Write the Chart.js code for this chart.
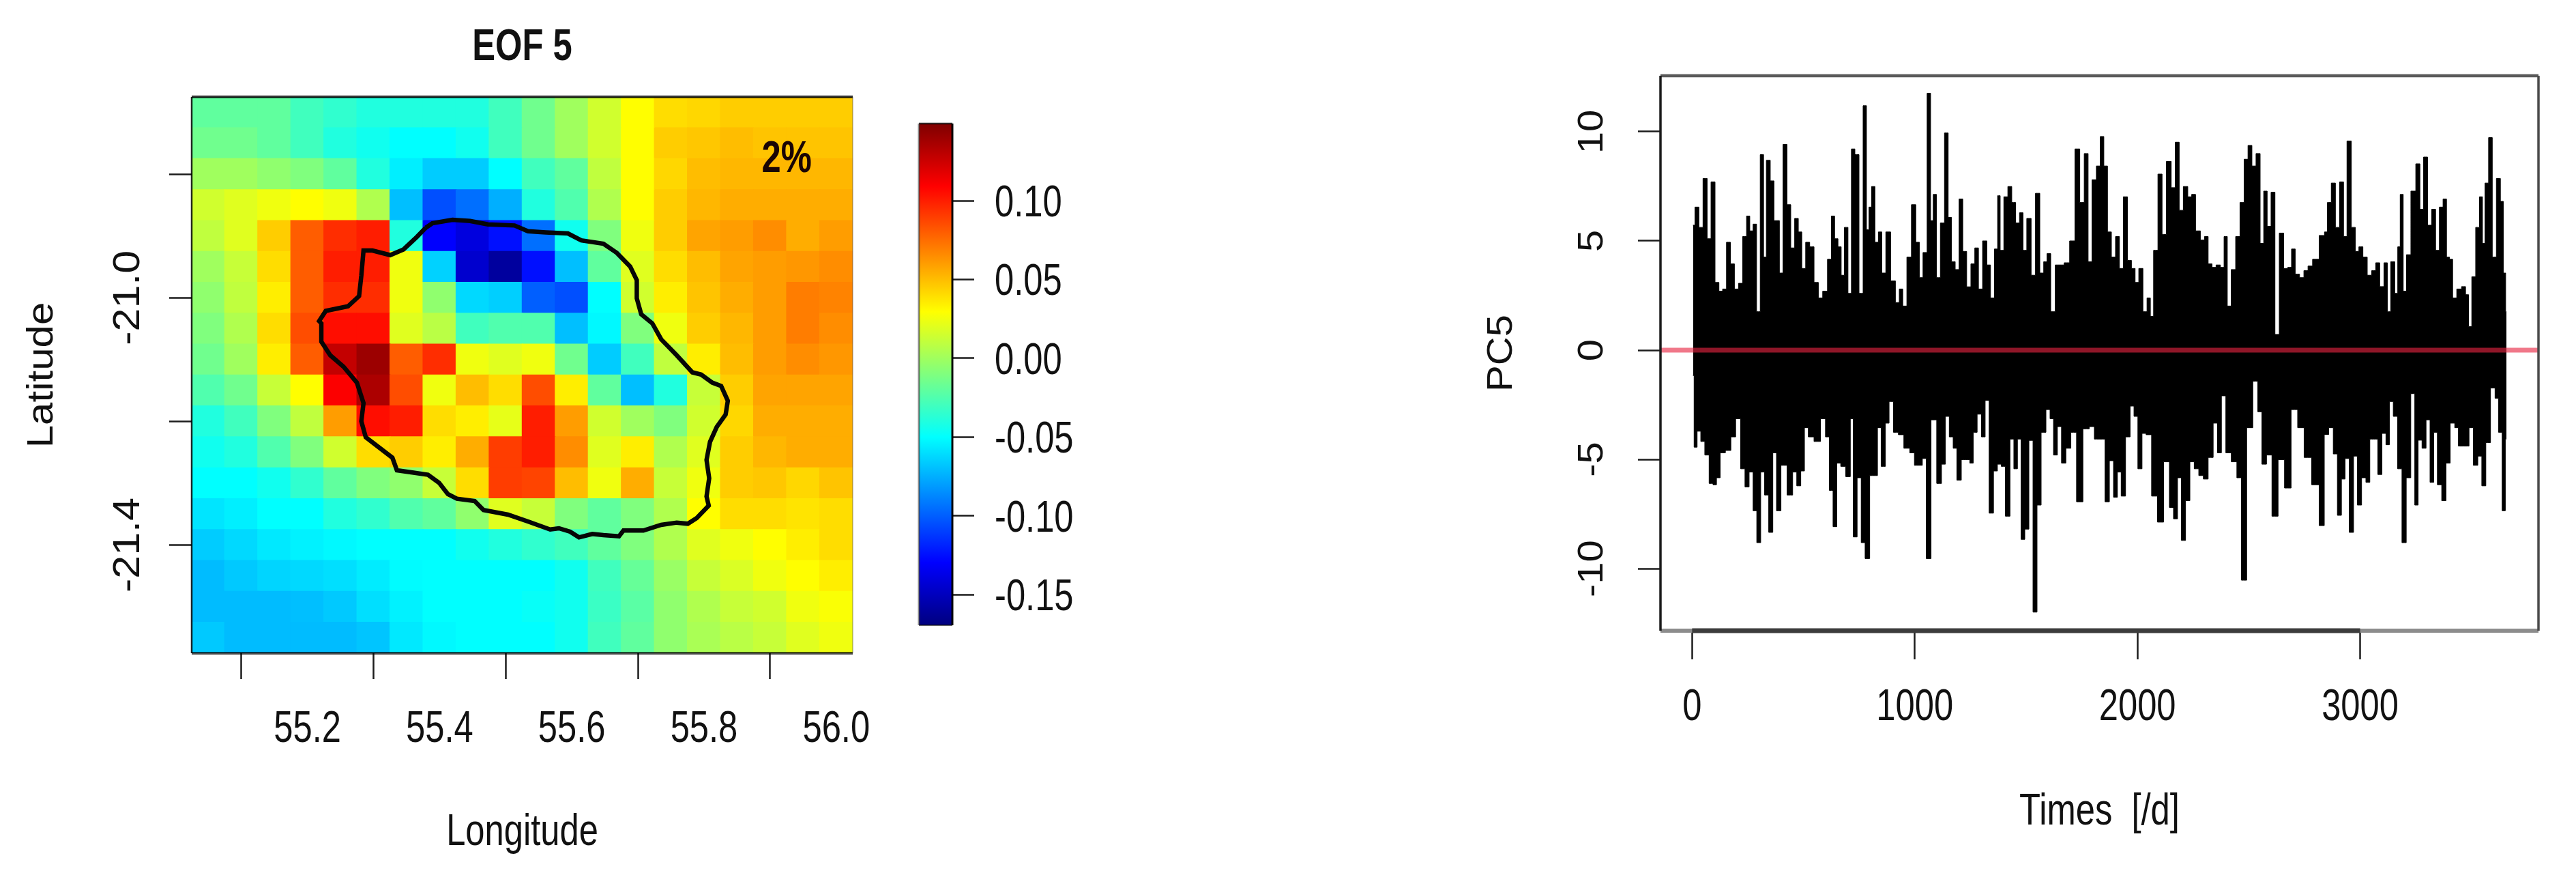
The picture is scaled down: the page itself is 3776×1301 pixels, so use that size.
<!DOCTYPE html>
<html>
<head>
<meta charset="utf-8">
<title>EOF 5 / PC5</title>
<script src="https://cdn.jsdelivr.net/npm/chart.js"></script>
<style>
html, body { margin: 0; padding: 0; background: #fff; }
body { width: 3776px; height: 1301px; position: relative; overflow: hidden; }
canvas { position: absolute; top: 0; }
#map { left: 0; }
#legend { left: 1300px; }
#series { left: 2100px; }
</style>
</head>
<body>
<canvas id="map" width="1300" height="1301"></canvas>
<canvas id="legend" width="300" height="1301"></canvas>
<canvas id="series" width="1676" height="1301"></canvas>
<script>
const SANS = '"Liberation Sans", sans-serif';
const INK = '#111111';

const mapTitle = 'EOF 5';
const percentText = '2%';
const percentAt = [55.925, -20.797];
const lonRange = [55.025, 56.025];
const latRange = [-21.575, -20.675];
const lonTicks = [55.2, 55.4, 55.6, 55.8, 56.0];
const latTicks = [-20.8, -21.0, -21.2, -21.4];
const latLabelled = [-21.0, -21.4];
const lonCentres = [55.05, 55.10, 55.15, 55.20, 55.25, 55.30, 55.35, 55.40, 55.45, 55.50, 55.55, 55.60, 55.65, 55.70, 55.75, 55.80, 55.85, 55.90, 55.95, 56.00];
const latCentres = [-20.70, -20.75, -20.80, -20.85, -20.90, -20.95, -21.00, -21.05, -21.10, -21.15, -21.20, -21.25, -21.30, -21.35, -21.40, -21.45, -21.50, -21.55];

// one row per latitude, north to south
const eofGrid = [
  [-.02, -.02, -.02, -.03, -.035, -.04, -.04, -.04, -.04, -.03, -.015, 0, .015, .03, .04, .042, .045, .045, .045, .045],
  [-.015, -.015, -.02, -.03, -.04, -.045, -.05, -.05, -.045, -.03, -.015, 0, .015, .03, .045, .047, .05, .048, .048, .048],
  [0, 0, -.005, -.01, -.02, -.04, -.055, -.066, -.066, -.05, -.03, -.02, .01, .03, .042, .05, .052, .052, .052, .052],
  [.015, .02, .025, .03, .025, .005, -.07, -.105, -.095, -.075, -.04, -.025, .005, .03, .045, .052, .055, .055, .055, .055],
  [.01, .02, .045, .08, .095, .1, -.04, -.13, -.14, -.125, -.095, -.045, -.01, .025, .045, .058, .06, .065, .055, .06],
  [0, .012, .04, .08, .1, .1, .025, -.064, -.145, -.16, -.125, -.07, -.02, .02, .04, .05, .058, .06, .062, .065],
  [-.005, .01, .035, .08, .095, .095, .025, -.005, -.062, -.065, -.1, -.105, -.05, .015, .035, .048, .055, .06, .07, .068],
  [-.01, .005, .04, .085, .105, .105, .02, .008, -.03, -.025, -.025, -.07, -.052, -.01, .025, .045, .052, .06, .07, .065],
  [-.015, 0, .035, .08, .128, .14, .08, .095, .025, .02, .025, -.015, -.066, -.03, .01, .035, .05, .06, .065, .062],
  [-.025, -.015, .012, .03, .11, .135, .085, .025, .05, .04, .085, .035, -.02, -.07, -.04, .012, .045, .058, .058, .058],
  [-.04, -.03, -.01, .01, .06, .105, .1, .04, .035, .022, .1, .06, .015, 0, -.01, .015, .042, .055, .055, .055],
  [-.045, -.04, -.025, -.01, .015, .04, .045, .035, .055, .09, .1, .065, .02, .035, .005, .02, .045, .052, .055, .055],
  [-.05, -.05, -.045, -.035, -.02, -.01, -.005, .012, .04, .09, .088, .05, .025, .055, .012, .025, .045, .047, .042, .048],
  [-.058, -.055, -.05, -.05, -.04, -.035, -.025, -.02, -.005, .02, .012, -.01, -.02, -.01, .005, .03, .04, .04, .038, .04],
  [-.066, -.062, -.057, -.054, -.052, -.05, -.05, -.05, -.045, -.04, -.035, -.03, -.02, -.01, .005, .02, .025, .03, .035, .04],
  [-.071, -.067, -.063, -.062, -.06, -.056, -.051, -.05, -.05, -.05, -.05, -.045, -.03, -.018, -.002, .012, .018, .025, .03, .035],
  [-.071, -.071, -.071, -.07, -.067, -.06, -.054, -.05, -.05, -.05, -.048, -.045, -.032, -.022, -.005, .005, .012, .015, .025, .028],
  [-.067, -.071, -.071, -.071, -.071, -.068, -.057, -.052, -.05, -.05, -.05, -.045, -.03, -.02, -.005, .003, .008, .012, .02, .025]
];

const islandLon = [55.379, 55.3891, 55.4194, 55.4462, 55.4731, 55.5134, 55.5336, 55.5605, 55.5941, 55.6143, 55.6478, 55.668, 55.6882, 55.6983, 55.6983, 55.705, 55.7218, 55.7352, 55.7587, 55.7823, 55.7957, 55.8125, 55.8259, 55.836, 55.8327, 55.8192, 55.8091, 55.8038, 55.8078, 55.8038, 55.8071, 55.789, 55.7755, 55.7587, 55.7352, 55.7083, 55.6781, 55.6714, 55.6478, 55.631, 55.6109, 55.5974, 55.5806, 55.5672, 55.5336, 55.5034, 55.4664, 55.453, 55.4261, 55.4126, 55.3992, 55.3824, 55.3589, 55.3354, 55.3286, 55.3018, 55.2883, 55.2816, 55.2849, 55.2749, 55.2547, 55.2346, 55.2211, 55.2211, 55.2178, 55.2278, 55.2614, 55.2782, 55.2816, 55.2849, 55.2984, 55.3253, 55.3454, 55.3656, 55.379];
const islandLat = [-20.8867, -20.8794, -20.8738, -20.8757, -20.8812, -20.883, -20.8923, -20.8941, -20.8959, -20.907, -20.9125, -20.9272, -20.9493, -20.9714, -21.0009, -21.0267, -21.0414, -21.0672, -21.093, -21.1206, -21.1243, -21.1372, -21.1427, -21.1667, -21.1888, -21.209, -21.233, -21.2624, -21.2919, -21.3213, -21.3361, -21.3563, -21.3655, -21.3637, -21.3674, -21.3766, -21.3766, -21.3858, -21.384, -21.3821, -21.3876, -21.3784, -21.3729, -21.3748, -21.3619, -21.3508, -21.3434, -21.3287, -21.325, -21.3177, -21.2993, -21.2864, -21.2827, -21.279, -21.2587, -21.2366, -21.2256, -21.1998, -21.1703, -21.1372, -21.1114, -21.093, -21.0709, -21.0414, -21.0377, -21.0212, -21.0138, -20.9972, -20.9641, -20.9236, -20.9236, -20.9309, -20.9217, -20.9015, -20.8867];

const legendRange = [-0.1695, 0.149];
const legendTicks = [-0.15, -0.10, -0.05, 0, 0.05, 0.10];
const jetStops = ['#00007F', '#0000FF', '#007FFF', '#00FFFF', '#7FFF7F', '#FFFF00', '#FF7F00', '#FF0000', '#7F0000'];

const dayRange = [-142, 3801];
const pcRange = [-12.84, 12.56];
const dayTicks = [0, 1000, 2000, 3000];
const pcTicks = [-10, -5, 0, 5, 10];

const highDays = [4, 22, 39, 59, 76, 94, 112, 129, 145, 164, 180, 200, 217, 237, 252, 266, 282, 297, 315, 327, 340, 362, 373, 385, 399, 418, 434, 452, 469, 485, 500, 520, 536, 559, 575, 598, 618, 633, 647, 663, 676, 692, 708, 723, 739, 760, 776, 790, 799, 813, 829, 844, 860, 880, 903, 923, 938, 954, 975, 995, 1014, 1028, 1046, 1065, 1077, 1089, 1106, 1124, 1143, 1157, 1173, 1190, 1208, 1223, 1243, 1261, 1278, 1294, 1315, 1333, 1347, 1368, 1376, 1391, 1409, 1427, 1444, 1462, 1479, 1493, 1513, 1532, 1552, 1571, 1587, 1601, 1620, 1642, 1659, 1683, 1708, 1731, 1751, 1771, 1786, 1806, 1825, 1841, 1857, 1874, 1892, 1911, 1927, 1946, 1964, 1982, 1997, 2015, 2034, 2052, 2064, 2081, 2103, 2118, 2142, 2161, 2179, 2196, 2216, 2236, 2251, 2271, 2294, 2308, 2327, 2343, 2363, 2382, 2396, 2411, 2431, 2451, 2470, 2488, 2505, 2523, 2542, 2560, 2574, 2591, 2609, 2626, 2648, 2665, 2685, 2699, 2718, 2738, 2757, 2775, 2798, 2834, 2846, 2860, 2881, 2897, 2919, 2932, 2950, 2971, 2986, 3003, 3022, 3042, 3062, 3078, 3098, 3116, 3129, 3146, 3165, 3173, 3187, 3200, 3216, 3240, 3260, 3277, 3293, 3313, 3330, 3348, 3364, 3381, 3395, 3408, 3423, 3445, 3466, 3481, 3493, 3510, 3528, 3544, 3555, 3567, 3587, 3600, 3624, 3636, 3650, 3657];
const highValues = [5.72, 6.55, 5.62, 7.86, 5.1, 7.7, 3.1, 2.7, 2.8, 4.94, 3.95, 2.8, 3.06, 5.2, 6.14, 5.46, 5.77, 1.76, 8.95, 4.26, 8.69, 7.75, 5.93, 5.93, 3.53, 9.42, 6.66, 4.68, 6.03, 5.41, 3.74, 4.94, 4.73, 3.1, 2.39, 2.7, 4.16, 6.14, 5.1, 4.73, 3.43, 5.62, 2.6, 9.21, 8.95, 2.6, 11.19, 5.51, 6.55, 7.49, 4.94, 5.41, 3.53, 5.41, 3.17, 2.18, 2.8, 2.02, 4.26, 6.66, 4.94, 3.32, 4.47, 11.76, 5.93, 7.13, 3.32, 5.82, 9.94, 6.08, 4.05, 3.69, 6.92, 4.52, 2.9, 3.95, 4.68, 2.8, 5.0, 3.9, 2.39, 4.63, 7.07, 4.57, 7.02, 7.49, 6.76, 5.82, 6.29, 4.57, 6.03, 3.43, 7.18, 3.53, 4.05, 4.42, 1.76, 3.9, 3.9, 4.0, 5.0, 9.21, 6.76, 9.0, 4.05, 7.8, 8.43, 9.78, 8.43, 5.41, 4.26, 5.2, 3.74, 7.02, 4.11, 3.74, 3.1, 3.74, 1.76, 2.39, 1.55, 4.57, 8.06, 5.3, 8.64, 7.44, 9.52, 6.4, 7.49, 7.02, 7.13, 5.46, 5.04, 5.2, 3.95, 3.79, 3.9, 3.79, 5.2, 2.02, 3.69, 5.2, 6.76, 8.74, 9.37, 8.43, 9.0, 4.89, 7.28, 5.67, 7.23, 0.72, 5.36, 3.74, 3.79, 4.63, 3.48, 3.32, 3.64, 3.85, 4.16, 5.25, 5.41, 6.76, 7.65, 5.62, 7.7, 5.2, 9.57, 5.62, 4.52, 4.73, 4.26, 3.43, 3.64, 4.0, 2.91, 4.0, 1.76, 4.05, 2.6, 4.73, 7.13, 2.7, 4.37, 7.28, 8.53, 6.45, 8.84, 5.72, 6.45, 4.57, 6.55, 6.92, 4.26, 4.16, 2.39, 2.8, 2.91, 2.54, 1.08, 3.36, 5.62, 7.02, 4.89, 7.65, 9.73, 4.26, 7.86, 6.81, 3.53, 1.76];

const lowDays = [4, 14, 31, 47, 67, 86, 102, 117, 135, 164, 184, 207, 229, 246, 266, 282, 299, 317, 334, 354, 371, 387, 411, 442, 461, 479, 497, 512, 532, 563, 590, 608, 625, 641, 659, 676, 704, 717, 731, 751, 768, 786, 809, 825, 840, 858, 878, 891, 917, 936, 966, 989, 1008, 1024, 1044, 1059, 1087, 1110, 1130, 1145, 1165, 1180, 1198, 1220, 1239, 1255, 1270, 1290, 1309, 1323, 1345, 1362, 1380, 1397, 1417, 1438, 1452, 1470, 1485, 1503, 1522, 1540, 1558, 1577, 1601, 1614, 1632, 1649, 1669, 1688, 1714, 1739, 1771, 1796, 1817, 1845, 1864, 1884, 1901, 1919, 1935, 1958, 1976, 1993, 2011, 2030, 2048, 2079, 2101, 2134, 2153, 2171, 2189, 2206, 2226, 2245, 2265, 2286, 2306, 2329, 2351, 2368, 2386, 2408, 2435, 2458, 2476, 2505, 2531, 2550, 2568, 2591, 2617, 2646, 2675, 2705, 2734, 2763, 2802, 2830, 2848, 2870, 2889, 2907, 2925, 2940, 2962, 2979, 2996, 3017, 3035, 3052, 3071, 3088, 3108, 3124, 3139, 3159, 3178, 3198, 3216, 3239, 3252, 3269, 3287, 3305, 3323, 3338, 3356, 3377, 3394, 3415, 3435, 3448, 3481, 3497, 3520, 3537, 3556, 3573, 3598, 3614, 3629, 3647, 3657];
const lowValues = [-1.16, -4.44, -3.71, -4.18, -4.8, -6.1, -6.16, -5.84, -4.7, -4.59, -3.97, -3.14, -5.43, -6.26, -5.58, -7.35, -8.81, -5.58, -6.63, -8.34, -4.7, -7.35, -5.27, -6.63, -5.58, -6.21, -5.53, -3.55, -3.97, -4.18, -3.14, -3.97, -6.42, -8.08, -5.17, -5.32, -5.79, -3.14, -8.55, -5.84, -8.81, -9.54, -5.74, -5.74, -3.55, -5.32, -3.34, -2.35, -3.76, -3.87, -4.49, -4.7, -5.27, -5.27, -4.96, -9.54, -3.19, -6.1, -5.22, -3.03, -3.97, -4.49, -5.95, -5.01, -5.01, -5.17, -3.76, -2.93, -3.97, -2.3, -7.46, -5.53, -5.22, -5.32, -7.6, -4.07, -5.43, -4.07, -8.66, -8.19, -4.13, -11.99, -7.09, -3.76, -2.72, -3.14, -4.8, -3.5, -5.17, -4.49, -3.76, -6.94, -3.6, -3.5, -4.07, -4.07, -6.94, -5.06, -6.73, -5.58, -6.68, -3.97, -2.56, -3.03, -5.43, -3.81, -3.87, -6.68, -7.87, -5.11, -7.2, -7.72, -5.84, -8.71, -6.89, -5.11, -5.43, -5.74, -5.9, -4.91, -3.34, -4.7, -2.09, -4.7, -5.11, -5.84, -10.53, -3.55, -1.42, -2.82, -5.22, -4.8, -7.6, -5.01, -6.31, -2.72, -3.55, -4.91, -6.16, -8.03, -3.86, -3.55, -4.75, -7.56, -5.9, -4.96, -8.34, -4.85, -7.09, -5.84, -6.05, -4.07, -4.07, -5.69, -3.81, -4.33, -2.35, -3.03, -5.43, -8.81, -5.84, -1.99, -7.09, -4.12, -4.49, -3.19, -6.05, -3.76, -6.16, -6.89, -5.17, -3.34, -3.55, -4.39, -4.39, -3.55, -5.27, -4.85, -6.21, -4.23, -1.73, -2.2, -3.76, -7.35, -4.07];

function hexToRgb(hex) {
  return [1, 3, 5].map((i) => parseInt(hex.slice(i, i + 2), 16));
}

function jetColour(value) {
  const t = (value - legendRange[0]) / (legendRange[1] - legendRange[0]) * (jetStops.length - 1);
  const i = Math.max(0, Math.min(jetStops.length - 2, Math.floor(t)));
  const a = hexToRgb(jetStops[i]);
  const b = hexToRgb(jetStops[i + 1]);
  const f = Math.max(0, Math.min(1, t - i));
  return 'rgb(' + a.map((c, k) => Math.round(c + (b[k] - c) * f)).join(',') + ')';
}

function zip(xs, ys) {
  return xs.map((x, i) => ({ x: x, y: ys[i] }));
}

// the original plot was stretched tall, so horizontal text is narrow and rotated text is flat
function squeezeText(canvas, dropBy = 0) {
  const ctx = canvas.getContext('2d');
  const raw = ctx.fillText.bind(ctx);
  ctx.fillText = function (text, x, y) {
    const rotated = ctx.getTransform().b !== 0;
    ctx.save();
    ctx.translate(x, y + dropBy);
    if (rotated) ctx.scale(1, 0.9); else ctx.scale(0.78, 1);
    raw(text, 0, 0);
    ctx.restore();
  };
  return canvas;
}

function noPadding(scale) {
  scale.paddingLeft = 0;
  scale.paddingRight = 0;
  scale.paddingTop = 0;
  scale.paddingBottom = 0;
}

// the box round a plot: each edge has its own colour and width
function framePlugin(id, edges) {
  return {
    id: id,
    afterDatasetsDraw(chart) {
      const { ctx, chartArea: { left, right, top, bottom } } = chart;
      const segs = {
        top: [left, top, right, top],
        bottom: [left, bottom, right, bottom],
        left: [left, top, left, bottom],
        right: [right, top, right, bottom]
      };
      ctx.save();
      Object.keys(edges).forEach((k) => {
        ctx.strokeStyle = edges[k][0];
        ctx.lineWidth = edges[k][1];
        ctx.beginPath();
        ctx.moveTo(segs[k][0], segs[k][1]);
        ctx.lineTo(segs[k][2], segs[k][3]);
        ctx.stroke();
      });
      ctx.restore();
    }
  };
}

const percentPlugin = {
  id: 'percentLabel',
  afterDatasetsDraw(chart) {
    const { ctx, scales: { x, y } } = chart;
    ctx.save();
    ctx.font = 'bold 65px ' + SANS;
    ctx.fillStyle = '#1a0505';
    ctx.textAlign = 'center';
    ctx.textBaseline = 'alphabetic';
    ctx.fillText(percentText, x.getPixelForValue(percentAt[0]), y.getPixelForValue(percentAt[1]));
    ctx.restore();
  }
};

// dark part of the bottom axis, from first to last tick
const axisLinePlugin = {
  id: 'axisLine',
  afterDatasetsDraw(chart) {
    const { ctx, chartArea, scales: { x } } = chart;
    ctx.save();
    ctx.strokeStyle = '#3c3c3c';
    ctx.lineWidth = 7;
    ctx.beginPath();
    ctx.moveTo(x.getPixelForValue(dayTicks[0]), chartArea.bottom);
    ctx.lineTo(x.getPixelForValue(dayTicks[dayTicks.length - 1]), chartArea.bottom);
    ctx.stroke();
    ctx.restore();
  }
};

function gridOpts(tickLength) {
  return { drawOnChartArea: false, tickLength: tickLength, tickColor: '#1c1c1c', tickWidth: 2.5 };
}

const noExtras = { legend: { display: false }, tooltip: { enabled: false } };

new Chart(squeezeText(document.getElementById('map')), {
  type: 'bar',
  data: {
    datasets: [
      {
        type: 'line',
        order: 0,
        data: zip(islandLon, islandLat),
        borderColor: '#060606',
        borderWidth: 6.5,
        pointRadius: 0,
        tension: 0,
        fill: false
      },
      {
        order: 1,
        data: eofGrid.flatMap((row, r) => row.map((v, c) => ({ x: lonCentres[c], y: [latCentres[r] - 0.025, latCentres[r] + 0.025] }))),
        backgroundColor: eofGrid.flat().map(jetColour),
        borderWidth: 0,
        inflateAmount: 0.7,
        barPercentage: 1,
        categoryPercentage: 1
      }
    ]
  },
  options: {
    responsive: false,
    animation: false,
    devicePixelRatio: 1,
    layout: { padding: { right: 50 } },
    plugins: {
      ...noExtras,
      title: {
        display: true,
        text: mapTitle,
        fullSize: false,
        color: INK,
        font: { family: SANS, size: 65, weight: 'bold' },
        padding: { top: 31, bottom: 33 }
      }
    },
    scales: {
      x: {
        type: 'linear',
        offset: false,
        min: lonRange[0],
        max: lonRange[1],
        afterBuildTicks(scale) { scale.ticks = lonTicks.map((v) => ({ value: v })); },
        afterFit(scale) { scale.height = 344; noPadding(scale); },
        grid: gridOpts(38),
        border: { display: false },
        ticks: {
          autoSkip: false,
          maxRotation: 0,
          color: INK,
          padding: 35.5,
          font: { family: SANS, size: 65 },
          callback: (v) => v.toFixed(1)
        },
        title: {
          display: true,
          text: 'Longitude',
          color: INK,
          font: { family: SANS, size: 65 },
          padding: { top: 0, bottom: 42 }
        }
      },
      y: {
        min: latRange[0],
        max: latRange[1],
        afterBuildTicks(scale) { scale.ticks = latTicks.map((v) => ({ value: v })); },
        afterFit(scale) { scale.width = 281; noPadding(scale); },
        grid: gridOpts(33),
        border: { display: false },
        ticks: {
          autoSkip: false,
          minRotation: 90,
          maxRotation: 90,
          crossAlign: 'center',
          color: INK,
          padding: -10.5,
          font: { family: SANS, size: 61 },
          callback: (v) => (latLabelled.includes(v) ? v.toFixed(1) : '')
        },
        title: {
          display: true,
          text: 'Latitude',
          color: INK,
          font: { family: SANS, size: 60 },
          padding: { top: 26, bottom: 0 }
        }
      }
    }
  },
  plugins: [
    framePlugin('mapFrame', {
      top: ['rgba(0,0,0,0.8)', 4],
      bottom: ['rgba(0,0,0,0.7)', 4],
      left: ['rgba(0,0,0,0.85)', 2.5],
      right: ['rgba(90,90,90,0.35)', 2]
    }),
    percentPlugin
  ]
});

new Chart(squeezeText(document.getElementById('legend'), 5), {
  type: 'bar',
  data: {
    labels: [''],
    datasets: [{
      data: [legendRange],
      borderWidth: 0,
      barPercentage: 1,
      categoryPercentage: 1,
      backgroundColor(context) {
        const area = context.chart.chartArea;
        if (!area) return jetStops[0];
        const g = context.chart.ctx.createLinearGradient(0, area.bottom, 0, area.top);
        jetStops.forEach((c, i) => g.addColorStop(i / (jetStops.length - 1), c));
        return g;
      }
    }]
  },
  options: {
    responsive: false,
    animation: false,
    devicePixelRatio: 1,
    layout: { padding: { left: 47, top: 181, bottom: 385 } },
    plugins: noExtras,
    scales: {
      x: { display: false },
      y: {
        position: 'right',
        min: legendRange[0],
        max: legendRange[1],
        afterBuildTicks(scale) { scale.ticks = legendTicks.map((v) => ({ value: v })); },
        afterFit(scale) { scale.width = 204; noPadding(scale); },
        grid: gridOpts(32),
        border: { display: false },
        ticks: {
          autoSkip: false,
          color: INK,
          padding: 30,
          font: { family: SANS, size: 65 },
          callback: (v) => v.toFixed(2)
        }
      }
    }
  },
  plugins: [
    framePlugin('legendFrame', {
      top: ['rgba(0,0,0,0.75)', 2.5],
      bottom: ['rgba(0,0,0,0.6)', 2],
      left: ['rgba(60,60,60,0.6)', 3],
      right: ['rgba(0,0,0,0.95)', 3]
    })
  ]
});

new Chart(squeezeText(document.getElementById('series')), {
  type: 'line',
  data: {
    datasets: [
      {
        order: 0,
        data: zip(dayRange, [0, 0]),
        borderColor: 'rgba(230,35,65,0.62)',
        borderWidth: 7,
        pointRadius: 0
      },
      {
        order: 1,
        data: zip(highDays, highValues),
        borderColor: '#000',
        backgroundColor: '#000',
        borderWidth: 1,
        pointRadius: 0,
        stepped: 'middle',
        fill: 'origin'
      },
      {
        order: 1,
        data: zip(lowDays, lowValues),
        borderColor: '#000',
        backgroundColor: '#000',
        borderWidth: 1,
        pointRadius: 0,
        stepped: 'middle',
        fill: 'origin'
      }
    ]
  },
  options: {
    responsive: false,
    animation: false,
    devicePixelRatio: 1,
    layout: { padding: { top: 111, right: 55 } },
    plugins: noExtras,
    scales: {
      x: {
        type: 'linear',
        min: dayRange[0],
        max: dayRange[1],
        afterBuildTicks(scale) { scale.ticks = dayTicks.map((v) => ({ value: v })); },
        afterFit(scale) { scale.height = 377; noPadding(scale); },
        grid: gridOpts(42),
        border: { display: false },
        ticks: {
          autoSkip: false,
          maxRotation: 0,
          color: INK,
          padding: 32.5,
          font: { family: SANS, size: 65 },
          callback: (v) => String(v)
        },
        title: {
          display: true,
          text: 'Times  [/d]',
          color: INK,
          font: { family: SANS, size: 65 },
          padding: { top: 0, bottom: 72 }
        }
      },
      y: {
        min: pcRange[0],
        max: pcRange[1],
        afterBuildTicks(scale) { scale.ticks = pcTicks.map((v) => ({ value: v })); },
        afterFit(scale) { scale.width = 334; noPadding(scale); },
        grid: gridOpts(33),
        border: { display: false },
        ticks: {
          autoSkip: false,
          minRotation: 90,
          maxRotation: 90,
          crossAlign: 'center',
          color: INK,
          padding: 24,
          font: { family: SANS, size: 58 },
          callback: (v) => String(v)
        },
        title: {
          display: true,
          text: 'PC5',
          color: INK,
          font: { family: SANS, size: 58 },
          padding: { top: 67, bottom: 0 }
        }
      }
    }
  },
  plugins: [
    framePlugin('seriesFrame', {
      top: ['#5a5a5a', 4.5],
      bottom: ['#8c8c8c', 6],
      left: ['#1a1a1a', 3.5],
      right: ['#4a4a4a', 3.5]
    }),
    axisLinePlugin
  ]
});
</script>
</body>
</html>
